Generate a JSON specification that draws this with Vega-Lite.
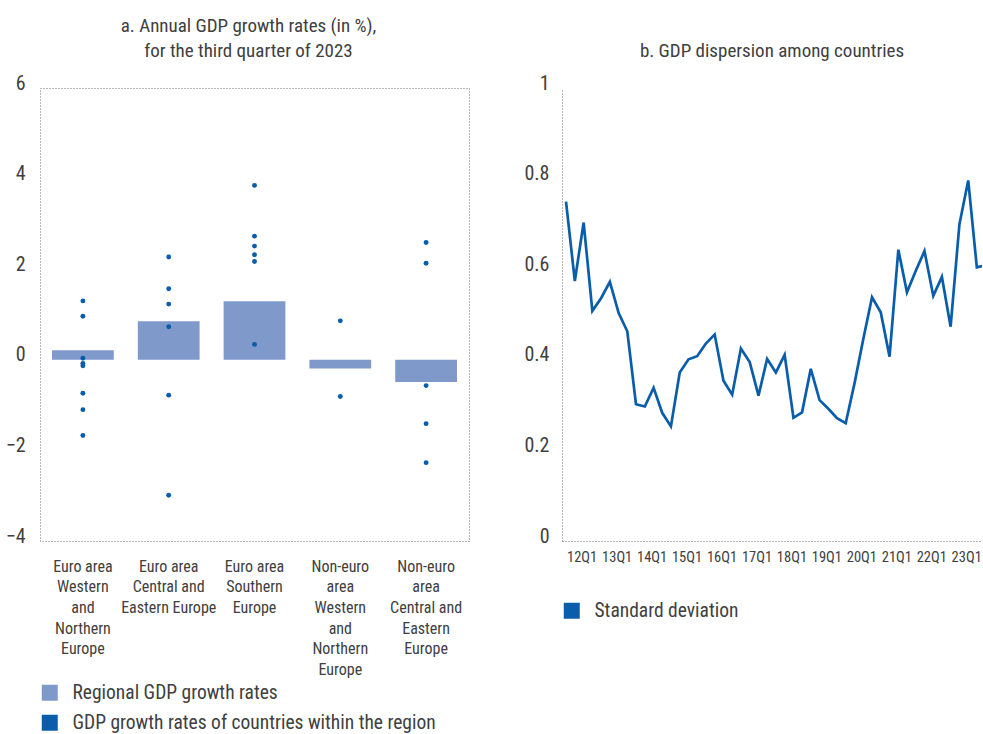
{
  "$schema": "https://vega.github.io/schema/vega-lite/v6.json",
  "padding": {"left": 4, "top": 16, "right": 0, "bottom": 0},
  "spacing": 53,
  "resolve": {"scale": {"color": "independent"}, "legend": {"color": "independent"}},
  "config": {
    "font": "'Liberation Sans Narrow', 'Roboto Condensed', 'DejaVu Sans Condensed', Roboto, sans-serif",
    "background": "white",
    "axis": {"labelColor": "#404040", "grid": false, "ticks": false, "domain": false, "labelFont": "'Liberation Sans Narrow', 'Roboto Condensed', 'DejaVu Sans Condensed', Roboto, sans-serif"},
    "title": {"fontSize": 19, "fontWeight": "normal", "color": "#404040", "font": "'Liberation Sans Narrow', 'Roboto Condensed', 'DejaVu Sans Condensed', Roboto, sans-serif", "frame": "group", "offset": 12},
    "legend": {"labelColor": "#404040", "labelFont": "'Liberation Sans Narrow', 'Roboto Condensed', 'DejaVu Sans Condensed', Roboto, sans-serif", "labelFontSize": 19.5, "labelLimit": 0, "symbolType": "square", "symbolSize": 256, "symbolStrokeWidth": 0, "labelOffset": 13, "rowPadding": 9, "title": null, "orient": "none"}
  },
  "datasets": {
    "regional": [
      {"region": "Euro area|Western|and|Northern|Europe", "growth": 0.21},
      {"region": "Euro area|Central and|Eastern Europe", "growth": 0.85},
      {"region": "Euro area|Southern|Europe", "growth": 1.29},
      {"region": "Non-euro|area|Western|and|Northern|Europe", "growth": -0.19},
      {"region": "Non-euro|area|Central and|Eastern|Europe", "growth": -0.49}
    ],
    "countries": [
      {"region": "Euro area|Western|and|Northern|Europe", "growth": 1.30},
      {"region": "Euro area|Western|and|Northern|Europe", "growth": 0.96},
      {"region": "Euro area|Western|and|Northern|Europe", "growth": 0.035},
      {"region": "Euro area|Western|and|Northern|Europe", "growth": -0.08},
      {"region": "Euro area|Western|and|Northern|Europe", "growth": -0.13},
      {"region": "Euro area|Western|and|Northern|Europe", "growth": -0.74},
      {"region": "Euro area|Western|and|Northern|Europe", "growth": -1.10},
      {"region": "Euro area|Western|and|Northern|Europe", "growth": -1.67},
      {"region": "Euro area|Central and|Eastern Europe", "growth": 2.27},
      {"region": "Euro area|Central and|Eastern Europe", "growth": 1.57},
      {"region": "Euro area|Central and|Eastern Europe", "growth": 1.23},
      {"region": "Euro area|Central and|Eastern Europe", "growth": 0.73},
      {"region": "Euro area|Central and|Eastern Europe", "growth": -0.78},
      {"region": "Euro area|Central and|Eastern Europe", "growth": -2.99},
      {"region": "Euro area|Southern|Europe", "growth": 3.85},
      {"region": "Euro area|Southern|Europe", "growth": 2.73},
      {"region": "Euro area|Southern|Europe", "growth": 2.51},
      {"region": "Euro area|Southern|Europe", "growth": 2.32},
      {"region": "Euro area|Southern|Europe", "growth": 2.17},
      {"region": "Euro area|Southern|Europe", "growth": 0.34},
      {"region": "Non-euro|area|Western|and|Northern|Europe", "growth": 0.86},
      {"region": "Non-euro|area|Western|and|Northern|Europe", "growth": -0.81},
      {"region": "Non-euro|area|Central and|Eastern|Europe", "growth": 2.59},
      {"region": "Non-euro|area|Central and|Eastern|Europe", "growth": 2.13},
      {"region": "Non-euro|area|Central and|Eastern|Europe", "growth": -0.57},
      {"region": "Non-euro|area|Central and|Eastern|Europe", "growth": -1.41},
      {"region": "Non-euro|area|Central and|Eastern|Europe", "growth": -2.27}
    ],
    "dispersion": [
      {"quarter": "2011-07-01", "sd": 0.749},
      {"quarter": "2011-10-01", "sd": 0.574},
      {"quarter": "2012-01-01", "sd": 0.703},
      {"quarter": "2012-04-01", "sd": 0.508},
      {"quarter": "2012-07-01", "sd": 0.536},
      {"quarter": "2012-10-01", "sd": 0.572},
      {"quarter": "2013-01-01", "sd": 0.503},
      {"quarter": "2013-04-01", "sd": 0.463},
      {"quarter": "2013-07-01", "sd": 0.302},
      {"quarter": "2013-10-01", "sd": 0.297},
      {"quarter": "2014-01-01", "sd": 0.338},
      {"quarter": "2014-04-01", "sd": 0.283},
      {"quarter": "2014-07-01", "sd": 0.253},
      {"quarter": "2014-10-01", "sd": 0.372},
      {"quarter": "2015-01-01", "sd": 0.401},
      {"quarter": "2015-04-01", "sd": 0.408},
      {"quarter": "2015-07-01", "sd": 0.436},
      {"quarter": "2015-10-01", "sd": 0.456},
      {"quarter": "2016-01-01", "sd": 0.354},
      {"quarter": "2016-04-01", "sd": 0.323},
      {"quarter": "2016-07-01", "sd": 0.425},
      {"quarter": "2016-10-01", "sd": 0.395},
      {"quarter": "2017-01-01", "sd": 0.321},
      {"quarter": "2017-04-01", "sd": 0.402},
      {"quarter": "2017-07-01", "sd": 0.372},
      {"quarter": "2017-10-01", "sd": 0.411},
      {"quarter": "2018-01-01", "sd": 0.272},
      {"quarter": "2018-04-01", "sd": 0.284},
      {"quarter": "2018-07-01", "sd": 0.380},
      {"quarter": "2018-10-01", "sd": 0.311},
      {"quarter": "2019-01-01", "sd": 0.292},
      {"quarter": "2019-04-01", "sd": 0.271},
      {"quarter": "2019-07-01", "sd": 0.260},
      {"quarter": "2019-10-01", "sd": 0.348},
      {"quarter": "2020-01-01", "sd": 0.446},
      {"quarter": "2020-04-01", "sd": 0.538},
      {"quarter": "2020-07-01", "sd": 0.505},
      {"quarter": "2020-10-01", "sd": 0.407},
      {"quarter": "2021-01-01", "sd": 0.643},
      {"quarter": "2021-04-01", "sd": 0.549},
      {"quarter": "2021-07-01", "sd": 0.596},
      {"quarter": "2021-10-01", "sd": 0.640},
      {"quarter": "2022-01-01", "sd": 0.541},
      {"quarter": "2022-04-01", "sd": 0.583},
      {"quarter": "2022-07-01", "sd": 0.473},
      {"quarter": "2022-10-01", "sd": 0.699},
      {"quarter": "2023-01-01", "sd": 0.796},
      {"quarter": "2023-04-01", "sd": 0.604},
      {"quarter": "2023-07-01", "sd": 0.609}
    ]
  },
  "hconcat": [
    {
      "width": 429,
      "height": 453,
      "title": {"text": ["a. Annual GDP growth rates (in %),", "for the third quarter of 2023"], "lineHeight": 25, "dx": -6},
      "view": {"stroke": "#707070", "strokeDash": [1, 2]},
      "layer": [
        {
          "mark": {"type": "rule", "strokeDash": [2, 2], "color": "#a8a8a8", "strokeWidth": 1.5},
          "encoding": {"y": {"datum": 0, "type": "quantitative"}}
        },
        {
          "data": {"name": "regional"},
          "mark": {"type": "bar"},
          "encoding": {
            "x": {
              "field": "region", "type": "nominal", "sort": null,
              "scale": {
                "domain": ["Euro area|Western|and|Northern|Europe", "Euro area|Central and|Eastern Europe", "Euro area|Southern|Europe", "Non-euro|area|Western|and|Northern|Europe", "Non-euro|area|Central and|Eastern|Europe"],
                "paddingInner": 0.28, "paddingOuter": 0.14
              },
              "axis": {"title": null, "labelAngle": 0, "labelExpr": "split(datum.label, '|')", "labelFontSize": 16, "labelLineHeight": 20.7, "labelPadding": 17, "labelBaseline": "top", "labelLimit": 0}
            },
            "y": {
              "field": "growth", "type": "quantitative",
              "scale": {"domain": [-4, 6], "nice": false, "zero": false},
              "axis": {"title": null, "values": [-4, -2, 0, 2, 4, 6], "labelFontSize": 20, "labelPadding": 15, "labelBaseline": "alphabetic", "labelOffset": 1}
            },
            "color": {
              "datum": "Regional GDP growth rates",
              "scale": {"domain": ["Regional GDP growth rates", "GDP growth rates of countries within the region"], "range": ["#8099cb", "#0a5dab"]},
              "legend": {"legendX": 0, "legendY": 595}
            }
          }
        },
        {
          "data": {"name": "countries"},
          "mark": {"type": "point", "filled": true, "size": 24, "opacity": 1},
          "encoding": {
            "x": {"field": "region", "type": "nominal", "sort": null},
            "y": {"field": "growth", "type": "quantitative"},
            "color": {"datum": "GDP growth rates of countries within the region"}
          }
        }
      ]
    },
    {
      "width": 420,
      "height": 453,
      "title": {"text": "b. GDP dispersion among countries"},
      "view": {"stroke": null},
      "layer": [
        {
          "mark": {"type": "rule", "strokeDash": [1, 2], "color": "#707070", "strokeWidth": 1},
          "encoding": {"y": {"datum": 1, "type": "quantitative"}}
        },
        {
          "data": {"name": "dispersion"},
          "mark": {"type": "line", "clip": true, "strokeWidth": 2.7},
          "encoding": {
            "x": {
              "field": "quarter", "type": "temporal",
              "scale": {"type": "utc", "domain": [{"year": 2011, "month": 5, "date": 20, "utc": true}, {"year": 2023, "month": 5, "date": 25, "utc": true}]},
              "axis": {
                "title": null,
                "values": [
                  {"year": 2012, "month": 1, "date": 1, "utc": true},
                  {"year": 2013, "month": 1, "date": 1, "utc": true},
                  {"year": 2014, "month": 1, "date": 1, "utc": true},
                  {"year": 2015, "month": 1, "date": 1, "utc": true},
                  {"year": 2016, "month": 1, "date": 1, "utc": true},
                  {"year": 2017, "month": 1, "date": 1, "utc": true},
                  {"year": 2018, "month": 1, "date": 1, "utc": true},
                  {"year": 2019, "month": 1, "date": 1, "utc": true},
                  {"year": 2020, "month": 1, "date": 1, "utc": true},
                  {"year": 2021, "month": 1, "date": 1, "utc": true},
                  {"year": 2022, "month": 1, "date": 1, "utc": true},
                  {"year": 2023, "month": 1, "date": 1, "utc": true}
                ],
                "labelExpr": "utcFormat(datum.value, '%y') + 'Q1'",
                "labelFontSize": 14.5, "labelPadding": 9, "labelOffset": -2, "labelBaseline": "top", "labelOverlap": false, "labelFlush": false,
                "domain": true, "domainDash": [1, 2], "domainColor": "#707070", "domainWidth": 1
              }
            },
            "y": {
              "field": "sd", "type": "quantitative",
              "scale": {"domain": [0, 1], "nice": false},
              "axis": {"title": null, "values": [0, 0.2, 0.4, 0.6, 0.8, 1], "format": "~g", "labelFontSize": 20, "labelPadding": 13, "labelBaseline": "alphabetic", "labelOffset": 1, "domain": true, "domainDash": [1, 2], "domainColor": "#707070", "domainWidth": 1}
            },
            "color": {
              "datum": "Standard deviation",
              "scale": {"range": ["#0a5dab"]},
              "legend": {"legendX": 0, "legendY": 513, "symbolFillColor": "#0a5dab", "symbolStrokeColor": "#0a5dab"}
            }
          }
        }
      ]
    }
  ]
}
